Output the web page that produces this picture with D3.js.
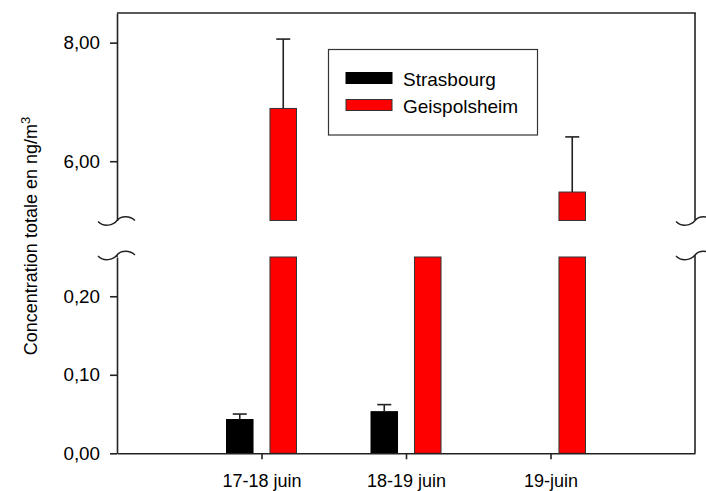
<!DOCTYPE html>
<html>
<head>
<meta charset="utf-8">
<script src="https://cdn.jsdelivr.net/npm/d3@7"></script>
<style>
  body { margin: 0; background: #fff; }
  text { font-family: "Liberation Sans", Arial, sans-serif; fill: #000; }
</style>
</head>
<body>
<svg id="chart" width="706" height="491"></svg>
<script>
// Sampling periods and the two sites
const categories = ["17-18 juin", "18-19 juin", "19-juin"];
const seriesNames = ["Strasbourg", "Geispolsheim"];
const seriesColors = ["#000000", "#ff0000"];

// Total concentration (ng/m3) and standard deviation per period
const strasbourgValues = [0.043, 0.053, null];
const strasbourgErrors = [0.007, 0.009, null];
const geispolsheimValues = [6.89, 2.0, 5.48];
const geispolsheimErrors = [1.17, 0, 0.93];

// Tick values of the two y-axis segments
const lowerTicks = [0, 0.1, 0.2];
const upperTicks = [6, 8];

(function () {
const svg = d3.select("#chart");
const plotLeft = 117, plotRight = 695, plotTop = 13, plotBottom = 453.3;
const lowerTop = 257, upperBottom = 220.5;
const axisColor = "#222";

// Broken y axis: a low segment and a high segment
const yLower = d3.scaleLinear().domain([0, 0.25]).range([plotBottom, lowerTop]);
const yUpper = d3.scaleLinear().domain([5, 8.5]).range([upperBottom, plotTop]);
const segments = [
  { scale: yLower, lo: 0, hi: 0.25, ticks: lowerTicks },
  { scale: yUpper, lo: 5, hi: 8.5, ticks: upperTicks }
];

// Categories sit at 1, 2, 3 on a 0..4 axis
const x = d3.scaleLinear().domain([0, 4]).range([plotLeft, plotRight]);
const xInner = d3.scaleBand().domain(seriesNames).range([-35, 35]).paddingInner(0.39).paddingOuter(0);

const series = [
  { name: seriesNames[0], values: strasbourgValues, errors: strasbourgErrors, color: seriesColors[0], stroke: "#000" },
  { name: seriesNames[1], values: geispolsheimValues, errors: geispolsheimErrors, color: seriesColors[1], stroke: "#333" }
];

const fmt = d => d3.format(".2f")(d).replace(".", ",");

// Bars, clipped to each segment
const barsG = svg.append("g");
series.forEach(s => {
  s.values.forEach((v, i) => {
    if (v == null) return;
    const bx = x(i + 1) + xInner(s.name);
    const bw = xInner.bandwidth();
    segments.forEach(seg => {
      if (v <= seg.lo) return;
      const vt = Math.min(v, seg.hi);
      barsG.append("rect")
        .attr("x", bx).attr("width", bw)
        .attr("y", seg.scale(vt))
        .attr("height", seg.scale(seg.lo) - seg.scale(vt))
        .attr("fill", s.color)
        .attr("stroke", s.stroke).attr("stroke-width", 1);
    });
    // Upper error bar, drawn in the segment holding the bar top
    const e = s.errors[i];
    if (e) {
      const seg = segments.find(sg => v >= sg.lo && v <= sg.hi);
      if (!seg) return;
      const cx = bx + bw / 2;
      const y0 = seg.scale(v), y1 = seg.scale(v + e);
      barsG.append("line").attr("x1", cx).attr("x2", cx).attr("y1", y0).attr("y2", y1)
        .attr("stroke", axisColor).attr("stroke-width", 1.6);
      barsG.append("line").attr("x1", cx - 7).attr("x2", cx + 7).attr("y1", y1).attr("y2", y1)
        .attr("stroke", axisColor).attr("stroke-width", 1.6);
    }
  });
});

// Left axis segments
const styleAxis = size => g => {
  g.selectAll("path.domain").attr("stroke", axisColor).attr("stroke-width", 1.6);
  g.selectAll(".tick line").attr("stroke", axisColor).attr("stroke-width", 1.6);
  g.selectAll(".tick text").style("font-size", size).attr("fill", "#000");
};
segments.forEach(seg => {
  svg.append("g")
    .attr("transform", `translate(${plotLeft},0)`)
    .call(d3.axisLeft(seg.scale).tickValues(seg.ticks).tickFormat(fmt)
      .tickSize(7).tickSizeOuter(0).tickPadding(10))
    .call(styleAxis("18.8px"));
});

// Right frame segments and top frame line
const frame = svg.append("g").attr("stroke", axisColor).attr("stroke-width", 1.6).attr("fill", "none");
frame.append("line").attr("x1", plotRight).attr("x2", plotRight).attr("y1", plotTop).attr("y2", upperBottom);
frame.append("line").attr("x1", plotRight).attr("x2", plotRight).attr("y1", lowerTop - 2).attr("y2", plotBottom);
frame.append("line").attr("x1", plotLeft).attr("x2", plotRight + 0.8).attr("y1", plotTop).attr("y2", plotTop);
frame.append("line").attr("x1", plotLeft).attr("x2", plotLeft).attr("y1", lowerTop - 2).attr("y2", lowerTop);

// X axis
svg.append("g")
  .attr("transform", `translate(0,${plotBottom})`)
  .call(d3.axisBottom(x).tickValues([1, 2, 3]).tickFormat(d => categories[d - 1])
    .tickSize(6).tickSizeOuter(0).tickPadding(14.5))
  .call(styleAxis("18px"));

// Axis break marks on both sides
const breakPath = (ax, ay) =>
  `M${ax - 19},${ay + 1} C${ax - 13},${ay + 7} ${ax - 4},${ay + 5} ${ax},${ay} ` +
  `C${ax + 4},${ay - 5} ${ax + 13},${ay - 5} ${ax + 18},${ay}`;
[plotLeft, plotRight].forEach(ax => {
  [upperBottom, lowerTop - 2].forEach(ay => {
    svg.append("path").attr("d", breakPath(ax, ay))
      .attr("fill", "none").attr("stroke", axisColor).attr("stroke-width", 1.4);
  });
});

// Y axis title with superscript
const yTitle = svg.append("text")
  .attr("transform", "translate(37,236) rotate(-90)")
  .attr("text-anchor", "middle")
  .style("font-size", "18px");
yTitle.append("tspan").text("Concentration totale en ng/m");
yTitle.append("tspan").attr("dy", "-0.55em").style("font-size", "13px").text("3");

// Legend
const legend = svg.append("g");
legend.append("rect").attr("x", 328.5).attr("y", 49.5).attr("width", 209).attr("height", 85.5)
  .attr("fill", "#fff").attr("stroke", "#333").attr("stroke-width", 1.2);
series.forEach((s, i) => {
  const ly = 72.5 + i * 27;
  legend.append("rect").attr("x", 346).attr("y", ly).attr("width", 46).attr("height", 11)
    .attr("fill", s.color).attr("stroke", s.stroke).attr("stroke-width", 1);
  legend.append("text").attr("x", 403).attr("y", ly + 13.5)
    .style("font-size", "19px").text(s.name);
});
})();
</script>
</body>
</html>
